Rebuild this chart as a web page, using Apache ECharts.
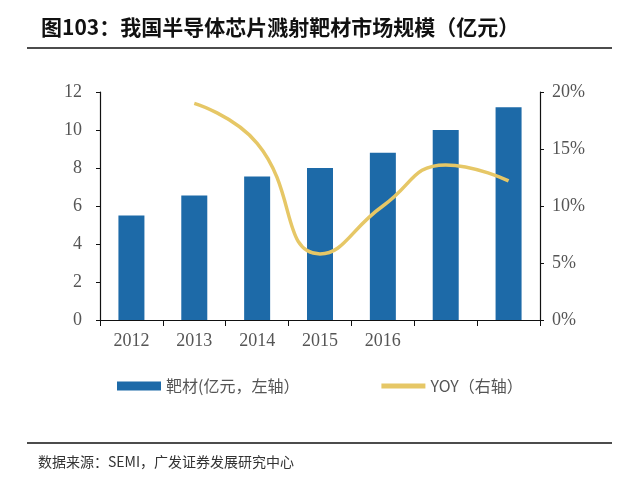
<!DOCTYPE html>
<html><head><meta charset="utf-8">
<script src="https://cdn.jsdelivr.net/npm/echarts@6/dist/echarts.min.js"></script>
<style>html,body{margin:0;padding:0;background:#fff}#c{width:640px;height:492px}</style>
</head><body><div id="c"></div>
<script>
const categories = ['2012','2013','2014','2015','2016','2017','2018'];
const tickLabels = ['2012','2013','2014','2015','2016','',''];
const targetValues = [5.5, 6.55, 7.55, 8.0, 8.8, 10.0, 11.2];
const yoyValues = [null, 19.0, 15.5, 5.8, 10.0, 13.6, 12.2];
const serif = 'Liberation Serif';
const cjk = 'Noto Sans CJK SC';
const chart = echarts.init(document.getElementById('c'));
chart.setOption({
  animation:false,
  grid:{left:100,right:100,top:92,bottom:172},
  title:{text:'图103：我国半导体芯片溅射靶材市场规模（亿元）',left:36,top:12,
    textStyle:{fontFamily:cjk,fontSize:21,fontWeight:'bold',color:'#111'}},
  graphic:[
    {type:'line',shape:{x1:27,y1:48,x2:612,y2:48},style:{stroke:'#111',lineWidth:1.5}},
    {type:'line',shape:{x1:27,y1:443,x2:612,y2:443},style:{stroke:'#111',lineWidth:1.5}},
    {type:'text',left:38,top:455,style:{text:'数据来源：SEMI，广发证券发展研究中心',font:'14px "Noto Sans CJK SC"',fill:'#333'}}
  ],
  legend:{top:373,left:112,itemGap:82,itemWidth:44,itemHeight:9,
    textStyle:{fontFamily:cjk,fontSize:16,color:'#555'},
    data:[{name:'靶材(亿元，左轴）',icon:'rect'},
          {name:'YOY（右轴）',icon:'path://M0,0H44V5H0Z',itemStyle:{color:'#e6c766'}}]},
  xAxis:{type:'category',data:categories,
    axisLine:{lineStyle:{color:'#111',width:1.2}},
    axisTick:{show:true,length:6,lineStyle:{color:'#111'}},
    axisLabel:{fontFamily:serif,fontSize:18,color:'#555',margin:12,
      formatter:(v,i)=>tickLabels[i]}},
  yAxis:[
    {type:'value',min:0,max:12,interval:2,splitLine:{show:false},
      axisLine:{show:true,lineStyle:{color:'#111',width:1.2}},
      axisTick:{show:true,length:4,lineStyle:{color:'#111'}},
      axisLabel:{fontFamily:serif,fontSize:18,color:'#555',margin:18}},
    {type:'value',min:0,max:20,interval:5,splitLine:{show:false},
      axisLine:{show:true,lineStyle:{color:'#111',width:1.2}},
      axisTick:{show:true,length:4,lineStyle:{color:'#111'}},
      axisLabel:{fontFamily:serif,fontSize:18,color:'#555',margin:12,formatter:'{value}%'}}
  ],
  series:[
    {name:'靶材(亿元，左轴）',type:'bar',data:targetValues,barWidth:26,itemStyle:{color:'#1d6aa8'}},
    {name:'YOY（右轴）',type:'line',yAxisIndex:1,data:yoyValues,smooth:0.5,symbol:'none',
      lineStyle:{color:'#e6c766',width:3.5},itemStyle:{color:'#e6c766'}}
  ]
});
</script></body></html>
